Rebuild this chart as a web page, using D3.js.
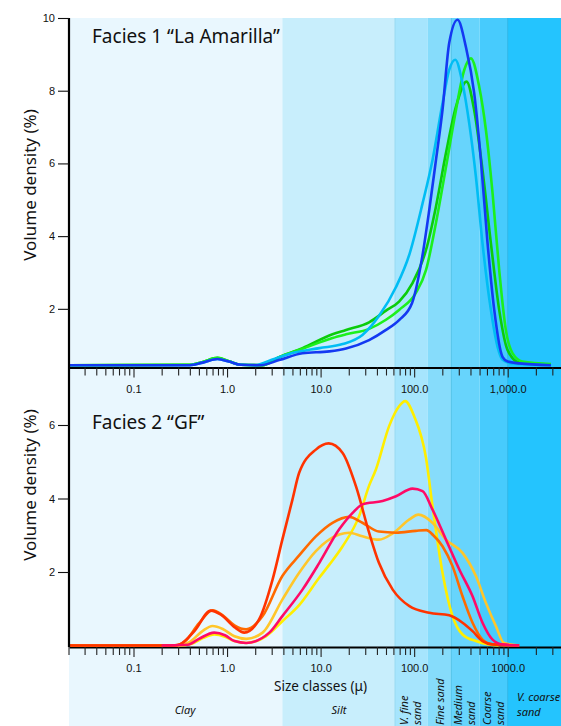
<!DOCTYPE html>
<html>
<head>
<meta charset="utf-8">
<script src="https://cdnjs.cloudflare.com/ajax/libs/d3/7.8.5/d3.min.js"></script>
<style>
body { margin: 0; background: #fff; }
svg { display: block; font-family: "Noto Sans", sans-serif; }
</style>
</head>
<body>
<div class="chart"></div>
<script>
// grain size classes (microns) and their names
var bandEdges = [0.02, 3.9, 62.5, 140, 250, 500, 1000, 4000];
var bandNames = ["Clay", "Silt", "V. fine sand", "Fine sand", "Medium sand", "Coarse sand", "V. coarse sand"];

var majorTicks = [0.1, 1, 10, 100, 1000];
var topTickLabels = ["0.1", "1.0", "10.0", "100.0", "1,000.0"];
var bottomTickLabels = ["0.1", "1.0", "10.0", "100.0", "1000.0"];
var topYTicks = [2, 4, 6, 8, 10];
var bottomYTicks = [2, 4, 6];

// Facies 1 "La Amarilla" - [size (µm), volume density (%)]
var amarillaBlue = [[0.02,0.45],[0.4,0.45],[0.55,0.52],[0.79,0.62],[1.05,0.55],[1.4,0.46],[2.3,0.45],[3.6,0.59],[6.4,0.78],[12.4,0.83],[18.7,0.91],[33,1.14],[50,1.42],[69,1.69],[95,2.16],[122,3.43],[145,4.72],[171,6.09],[201,7.47],[237,9.31],[291,9.95],[357,9.21],[438,7.94],[517,6.09],[609,3.81],[718,1.97],[880,0.68],[1000,0.55],[1327,0.5],[2900,0.45]];
var amarillaSky = [[0.02,0.45],[0.4,0.45],[0.55,0.52],[0.79,0.62],[1.05,0.55],[1.4,0.46],[2.0,0.45],[3.0,0.6],[4.6,0.76],[9.7,0.92],[17.2,1.03],[28,1.28],[42,1.8],[64,2.6],[89,3.5],[123,4.9],[157,6.09],[201,7.65],[237,8.57],[275,8.85],[329,8.2],[388,7.1],[457,5.64],[538,3.8],[661,1.97],[778,0.96],[880,0.6],[1100,0.5],[2900,0.45]];
var amarillaLime = [[0.02,0.45],[0.4,0.46],[0.55,0.54],[0.79,0.65],[1.05,0.56],[1.4,0.46],[2.4,0.45],[3.6,0.67],[6.4,0.9],[13.4,1.2],[18.7,1.3],[33,1.45],[50,1.7],[69,1.97],[104,2.43],[134,3.07],[171,4.36],[219,5.9],[280,7.47],[343,8.57],[404,8.89],[496,8.11],[585,6.92],[689,5.18],[811,3.07],[955,1.42],[1125,0.78],[1438,0.55],[2900,0.48]];
var amarillaGreen = [[0.02,0.45],[0.4,0.46],[0.55,0.54],[0.79,0.65],[1.05,0.56],[1.4,0.46],[2.4,0.45],[3.6,0.67],[6.4,0.92],[13.4,1.3],[18.7,1.42],[33,1.63],[50,1.95],[69,2.2],[96,2.71],[134,3.62],[171,4.81],[219,6.29],[280,7.56],[363,8.25],[438,7.47],[538,5.82],[661,3.81],[811,1.97],[995,0.87],[1327,0.52],[2900,0.47]];

// Facies 2 "GF"
var gfYellow = [[0.02,0],[0.3,0],[0.42,0.05],[0.55,0.2],[0.73,0.3],[0.95,0.24],[1.2,0.12],[1.6,0.07],[2.6,0.25],[3.9,0.66],[5.9,1.1],[9.7,1.85],[12.4,2.2],[17.2,2.7],[25.8,3.52],[33,4.35],[39,4.79],[54,5.97],[69,6.51],[80,6.65],[100,6.24],[134,5.1],[157,3.8],[201,1.98],[257,0.8],[329,0.3],[457,0.12],[620,0.03],[800,0]];
var gfGold = [[0.02,0],[0.3,0],[0.4,0.1],[0.55,0.4],[0.7,0.53],[0.9,0.45],[1.2,0.25],[1.6,0.18],[2.4,0.35],[3.9,1.25],[5.9,1.98],[8.9,2.57],[15.8,3.02],[20.2,3.07],[28,2.97],[42,2.88],[59,3.05],[89,3.43],[111,3.56],[157,3.34],[219,2.88],[329,2.52],[457,1.89],[585,1.16],[747,0.53],[912,0.07],[1327,0]];
var gfOrange = [[0.02,0],[0.28,0],[0.35,0.1],[0.5,0.6],[0.7,0.96],[0.9,0.82],[1.2,0.55],[1.6,0.44],[2.4,0.8],[3.9,1.89],[5.9,2.45],[8.9,2.97],[13.4,3.34],[20.2,3.5],[28,3.34],[42,3.1],[64,3.07],[104,3.12],[135,3.14],[160,3.0],[201,2.7],[257,2.16],[329,1.34],[421,0.62],[538,0.16],[689,0.03],[1327,0]];
var gfRed = [[0.02,0],[0.25,0],[0.31,0.03],[0.45,0.4],[0.67,0.95],[0.86,0.84],[1.2,0.5],[1.53,0.35],[2.2,0.71],[3.07,1.8],[3.9,2.88],[5.0,3.97],[5.9,4.7],[8.9,5.33],[12.2,5.5],[17.2,5.24],[23.9,4.33],[33,3.07],[42,2.25],[59,1.52],[89,1.07],[145,0.89],[237,0.82],[329,0.62],[421,0.39],[538,0.12],[689,0.03],[1327,0]];
var gfPink = [[0.2,0],[0.38,0.02],[0.5,0.18],[0.73,0.35],[0.95,0.28],[1.2,0.12],[1.6,0.07],[2.83,0.35],[3.9,0.8],[6.4,1.52],[9.7,2.25],[15.8,3.16],[22,3.61],[28,3.84],[46,3.93],[64,4.06],[96,4.27],[123,4.2],[157,3.7],[219,2.88],[304,2.07],[421,1.34],[538,0.62],[689,0.16],[880,0.03],[1327,0]];

var bandColors = ["#e9f7fe", "#c8eefc", "#a6e5fd", "#86dcfb", "#67d4fc", "#47cbfd", "#24c4fe"];

var W = 561, H = 726;
var left = 69, right = 561;

var svg = d3.select(".chart")
			.append("svg")
			.attr("width", W)
			.attr("height", H);

// log size axis, 0.1 and 1000 microns sit at fixed spots, the rest extrapolates
var x = d3.scaleLog().domain([0.1, 1000]).range([133.5, 507.7]);
x.domain([x.invert(left), x.invert(right)]).range([left, right]);

var yTop = d3.scaleLinear().domain([0.4, 10]).range([367, 18]);
var yBot = d3.scaleLinear().domain([0, 7]).range([645.5, 388.25]);

// background size-class bands
svg.append("g")
   .selectAll("rect")
   .data(bandNames)
   .enter()
   .append("rect")
   .attr("x", function(d, i) { return Math.max(x(bandEdges[i]), left); })
   .attr("width", function(d, i) { return Math.min(x(bandEdges[i + 1]), W) - Math.max(x(bandEdges[i]), left); })
   .attr("y", 18)
   .attr("height", H - 18)
   .style("fill", function(d, i) { return bandColors[i]; });

svg.append("g")
   .selectAll("line")
   .data([62.5, 250, 1000])
   .enter()
   .append("line")
   .attr("x1", function(d) { return x(d); })
   .attr("x2", function(d) { return x(d); })
   .attr("y1", 18)
   .attr("y2", H)
   .style("stroke", function(d, i) { return ["#95d9f2", "#52c4ea", "#2cb6e8"][i]; })
   .style("stroke-width", 1);

// size axes
var minorTicks = [];
for (var k = -2; k <= 3; k++) {
	for (var m = 2; m <= 9; m++) {
		var v = m * Math.pow(10, k);
		if (v > x.domain()[0] && v < x.domain()[1]) minorTicks.push(v);
	}
}

function drawSizeAxis(yPos, labels) {
	var g = svg.append("g")
			   .attr("transform", "translate(0," + yPos + ")")
			   .call(d3.axisBottom(x)
					   .tickValues(minorTicks.concat(majorTicks))
					   .tickSize(8)
					   .tickSizeOuter(0)
					   .tickFormat(function(d) {
							var i = majorTicks.indexOf(d);
							return i < 0 ? "" : labels[i];
					   }));
	g.select(".domain").style("stroke", "#000").style("stroke-width", 2.2);
	g.selectAll(".tick line").style("stroke", "#222").style("stroke-width", 1.1)
	 .filter(function(d) { return majorTicks.indexOf(d) >= 0; })
	 .attr("y2", 10);
	g.selectAll(".tick text")
	 .attr("y", 25)
	 .attr("dy", null)
	 .style("font-size", "11px")
	 .style("fill", "#111");
	// tick at the left edge
	g.append("line").attr("x1", left).attr("x2", left).attr("y1", 0).attr("y2", 8)
	 .style("stroke", "#222").style("stroke-width", 1.1);
}

function drawDensityAxis(scale, ticks) {
	var g = svg.append("g")
			   .attr("transform", "translate(" + left + ",0)")
			   .call(d3.axisLeft(scale)
					   .tickValues(ticks)
					   .tickFormat(d3.format("d"))
					   .tickSize(11)
					   .tickPadding(3)
					   .tickSizeOuter(0));
	g.select(".domain").remove();
	g.selectAll(".tick line").style("stroke", "#111").style("stroke-width", 1.1);
	g.selectAll(".tick text").style("font-size", "11px").style("fill", "#111");
}

var line = function(yScale) {
	return d3.line()
			 .x(function(d) { return x(d[0]); })
			 .y(function(d) { return yScale(d[1]); })
			 .curve(d3.curveMonotoneX);
};

function drawCurves(series, colors, yScale) {
	svg.append("g")
	   .selectAll("path")
	   .data(series)
	   .enter()
	   .append("path")
	   .attr("d", line(yScale))
	   .style("fill", "none")
	   .style("stroke", function(d, i) { return colors[i]; })
	   .style("stroke-width", 2.6)
	   .style("stroke-linejoin", "round");
}

drawSizeAxis(367.5, topTickLabels);
drawSizeAxis(647, bottomTickLabels);

drawCurves([amarillaGreen, amarillaLime, amarillaSky, amarillaBlue],
		   ["#0bcc0b", "#1cf01c", "#00bdf4", "#1439f2"], yTop);
drawCurves([gfYellow, gfGold, gfOrange, gfRed, gfPink],
		   ["#ffee00", "#ffc62a", "#ff6a00", "#ff3300", "#ff0a66"], yBot);

svg.append("line")
   .attr("x1", left).attr("x2", left)
   .attr("y1", 18).attr("y2", 647)
   .style("stroke", "#000")
   .style("stroke-width", 2.2);

drawDensityAxis(yTop, topYTicks);
drawDensityAxis(yBot, bottomYTicks);

// titles
svg.append("text").attr("x", 92).attr("y", 43)
   .style("font-size", "19px").style("fill", "#111")
   .text("Facies 1 \u201cLa Amarilla\u201d");
svg.append("text").attr("x", 92).attr("y", 429)
   .style("font-size", "19px").style("fill", "#111")
   .text("Facies 2 \u201cGF\u201d");

[185, 485].forEach(function(cy) {
	svg.append("text")
	   .attr("transform", "translate(36," + cy + ") rotate(-90)")
	   .attr("text-anchor", "middle")
	   .style("font-size", "17px")
	   .style("fill", "#111")
	   .text("Volume density (%)");
});

svg.append("text").attr("x", 320.5).attr("y", 691)
   .attr("text-anchor", "middle")
   .style("font-size", "13.5px").style("fill", "#111")
   .text("Size classes (\u03bc)");

// size class names
var labelStyle = function(sel) {
	return sel.style("font-size", "11px").style("font-style", "italic").style("fill", "#111");
};
labelStyle(svg.append("text").attr("x", 185).attr("y", 714).attr("text-anchor", "middle").text(bandNames[0]));
labelStyle(svg.append("text").attr("x", 339).attr("y", 714).attr("text-anchor", "middle").text(bandNames[1]));

function rotatedLabel(name, i, lines) {
	var cx = (x(bandEdges[i]) + x(bandEdges[i + 1])) / 2;
	var offs = lines.length > 1 ? [-3, 10] : [4.5];
	lines.forEach(function(t, j) {
		labelStyle(svg.append("text")
		   .attr("transform", "translate(" + (cx + offs[j]) + ",725) rotate(-90)")
		   .text(t));
	});
}
rotatedLabel(bandNames[2], 2, ["V. fine", "sand"]);
rotatedLabel(bandNames[3], 3, ["Fine sand"]);
rotatedLabel(bandNames[4], 4, ["Medium", "sand"]);
rotatedLabel(bandNames[5], 5, ["Coarse", "sand"]);

labelStyle(svg.append("text").attr("x", 517).attr("y", 701).text("V. coarse"));
labelStyle(svg.append("text").attr("x", 517).attr("y", 716).text("sand"));
</script>
</body>
</html>
